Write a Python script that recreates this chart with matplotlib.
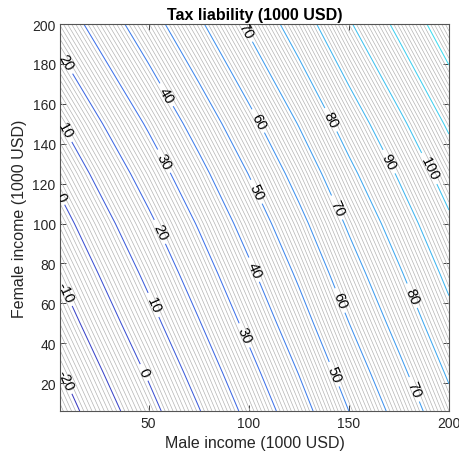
import numpy as np
import matplotlib
matplotlib.use('Agg')
import matplotlib.pyplot as plt
from matplotlib.colors import LinearSegmentedColormap

plt.rcParams['font.family'] = ['Liberation Sans', 'DejaVu Sans']

# tax read along the bottom edge (female income ~6) vs male income
male_income = np.array([6, 25, 50, 75, 100, 125, 150, 175, 200])
tax_male = np.array([-24.7, -15.4, -3.2, 9.5, 22.6, 36.0, 50.0, 63.4, 77.0])

# extra tax added by female income (read along the left/right edges)
female_income = np.array([6, 25, 50, 75, 100, 125, 150, 175, 200])
tax_female_extra = np.array([0.0, 4.2, 9.9, 15.5, 21.3, 27.6, 34.4, 41.7, 49.0])

major_levels = np.arange(-20, 130, 10)
minor_levels = [v for v in range(-25, 128) if v % 10 != 0]

# where the inline labels sit (male, female)
label_pos = [(9, 181), (9, 147), (7, 116), (9, 66), (9, 22),
             (58, 164), (59, 132), (56, 96), (52, 59), (47, 25),
             (97, 196), (104, 151), (104, 116), (103, 77), (98, 44),
             (141, 152), (144, 108), (147, 62), (144, 25),
             (170, 131), (189, 127), (182, 64), (183, 17)]

T = tax_male[None, :] + tax_female_extra[:, None]

fig = plt.figure(figsize=(4.6, 4.64), dpi=100)
ax = fig.add_axes([0.1315, 0.112, 0.8445, 0.834])

ax.contour(male_income, female_income, T, levels=minor_levels,
           colors='#b4b4b4', linewidths=0.5, negative_linestyles='solid')

cmap = LinearSegmentedColormap.from_list('blues', ['#3a3ac0', '#3f6fe8', '#3f9ff0', '#3fdcf0'])
cs = ax.contour(male_income, female_income, T, levels=major_levels,
                cmap=cmap, linewidths=0.75, negative_linestyles='solid')
ax.clabel(cs, manual=label_pos, inline=True, fontsize=10.5, colors='k', fmt='%d')

ax.set_xlim(6, 200)
ax.set_ylim(6, 200)
ax.set_xticks([50, 100, 150, 200])
ax.set_yticks(np.arange(20, 201, 20))
ax.tick_params(direction='in', top=True, right=True, length=4, width=0.6,
               colors='#262626', labelsize=10, labelcolor='#262626')
for s in ax.spines.values():
    s.set_color('#555555')
    s.set_linewidth(0.8)

ax.set_xlabel('Male income (1000 USD)', fontsize=11.5, color='#262626')
ax.set_ylabel('Female income (1000 USD)', fontsize=11.5, color='#262626')
ax.set_title('Tax liability (1000 USD)', fontsize=11.5, fontweight='bold', pad=4)

fig.savefig('out.png', dpi=100)
